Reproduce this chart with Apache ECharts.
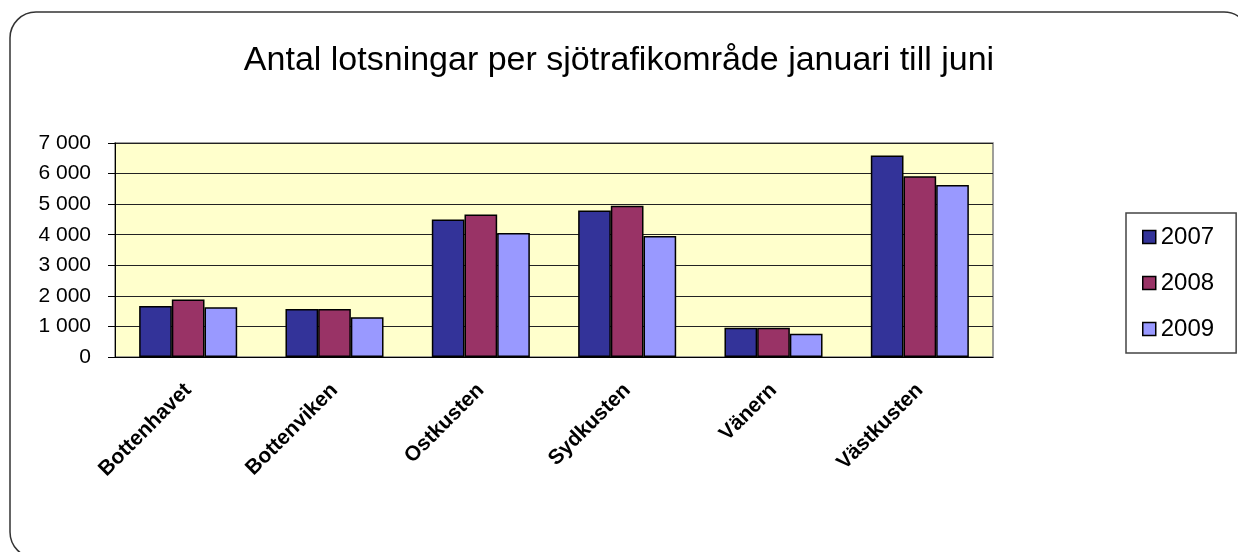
<!DOCTYPE html>
<html>
<head>
<meta charset="utf-8">
<script src="https://cdn.jsdelivr.net/npm/echarts@6/dist/echarts.min.js"></script>
<style>
  html, body { margin: 0; padding: 0; background: #fff; }
  #chart { width: 1238px; height: 552px; }
</style>
</head>
<body>
<div id="chart"></div>
<script>
const areas = ['Bottenhavet', 'Bottenviken', 'Ostkusten', 'Sydkusten', 'Vänern', 'Västkusten'];
const years = ['2007', '2008', '2009'];
const values2007 = [1670, 1570, 4500, 4790, 960, 6590];
const values2008 = [1880, 1570, 4660, 4950, 960, 5910];
const values2009 = [1630, 1300, 4060, 3960, 760, 5630];
const colors = ['#333399', '#993366', '#9999FF'];

// 1234 -> "1 234"
function spaced(v) {
  return String(v).replace(/\B(?=(\d{3})+(?!\d))/g, ' ');
}

const seriesData = [values2007, values2008, values2009];

const option = {
  animation: false,
  textStyle: { fontFamily: 'Liberation Sans, Arial, sans-serif' },
  title: {
    text: 'Antal lotsningar per sjötrafikområde januari till juni',
    left: 'center',
    top: 39,
    textStyle: { fontSize: 34, fontWeight: 'normal', color: '#000' }
  },
  graphic: [{
    type: 'rect',
    shape: { x: 10, y: 12, width: 1240, height: 546, r: 26 },
    style: { fill: 'none', stroke: '#333', lineWidth: 1.5 },
    silent: true,
    z: -1
  }],
  legend: {
    orient: 'vertical',
    left: 1126,
    top: 213,
    padding: [12, 22, 12, 16],
    itemGap: 22,
    itemWidth: 13,
    itemHeight: 13,
    borderColor: '#444',
    borderWidth: 1.5,
    borderRadius: 0,
    data: years,
    icon: 'rect',
    itemStyle: { borderColor: '#000', borderWidth: 1.5 },
    textStyle: { fontSize: 24, color: '#000' }
  },
  grid: {
    left: 115,
    top: 143,
    width: 878,
    height: 214,
    show: true,
    backgroundColor: '#FFFFCC',
    borderColor: '#808080',
    borderWidth: 1.5
  },
  xAxis: {
    type: 'category',
    data: areas,
    axisLine: { lineStyle: { color: '#000', width: 1 } },
    axisTick: { length: 7, lineStyle: { color: '#000' } },
    axisLabel: {
      rotate: 45,
      interval: 0,
      fontSize: 21,
      fontWeight: 'bold',
      color: '#000',
      margin: 30
    }
  },
  yAxis: {
    type: 'value',
    min: 0,
    max: 7000,
    interval: 1000,
    axisLine: { show: true, lineStyle: { color: '#000', width: 1 } },
    axisTick: { show: true, length: 7, lineStyle: { color: '#000' } },
    splitLine: { lineStyle: { color: '#222', width: 1 } },
    axisLabel: {
      fontSize: 21,
      color: '#000',
      margin: 24,
      formatter: v => spaced(v)
    }
  },
  series: years.map((y, i) => ({
    name: y,
    type: 'bar',
    data: seriesData[i],
    barGap: '0%',
    barCategoryGap: '33%',
    itemStyle: { color: colors[i], borderColor: '#000', borderWidth: 1.5 }
  }))
};

echarts.init(document.getElementById('chart')).setOption(option);
</script>
</body>
</html>
